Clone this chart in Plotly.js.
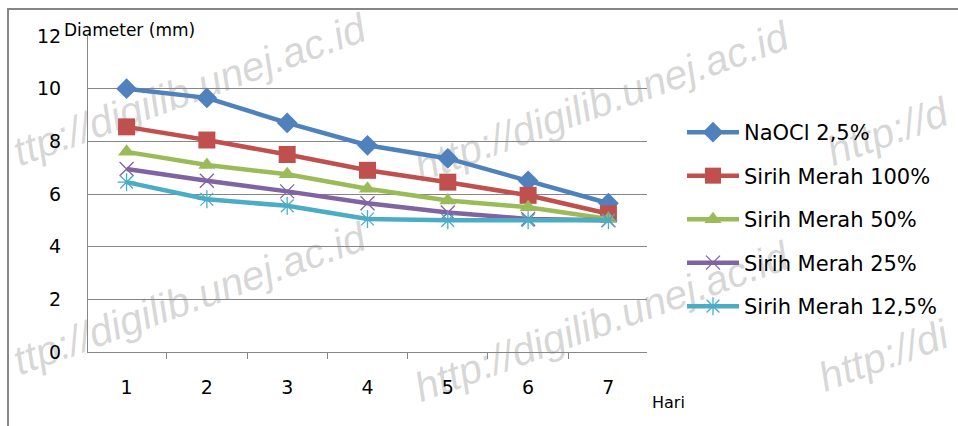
<!DOCTYPE html>
<html>
<head>
<meta charset="utf-8">
<script src="https://cdn.plot.ly/plotly-3.0.1.min.js"></script>
<style>
html,body{margin:0;padding:0;background:#fff;}
#chart{width:958px;height:426px;}
</style>
</head>
<body>
<div id="chart"></div>
<script>
// Data
var days = ['1', '2', '3', '4', '5', '6', '7'];
var naocl25 = [10.0, 9.65, 8.7, 7.85, 7.35, 6.5, 5.65];
var sirih100 = [8.55, 8.05, 7.5, 6.9, 6.45, 5.95, 5.25];
var sirih50 = [7.6, 7.1, 6.75, 6.2, 5.75, 5.5, 5.05];
var sirih25 = [6.95, 6.5, 6.1, 5.65, 5.3, 5.05, 5.0];
var sirih125 = [6.45, 5.8, 5.55, 5.05, 5.0, 5.0, 5.0];
var seriesNames = ['NaOCl 2,5%', 'Sirih Merah 100%', 'Sirih Merah 50%', 'Sirih Merah 25%', 'Sirih Merah 12,5%'];
var yTitle = 'Diameter (mm)';
var xTitle = 'Hari';
var watermarkTexts = ['ttp://digilib.unej.ac.id', 'http://digilib.unej.ac.id', 'ttp://digilib.unej.ac.id',
                      'http://digilib.unej.ac.id', 'http://d', 'http://di'];

var seriesValues = [naocl25, sirih100, sirih50, sirih25, sirih125];
var colors = ['#4F81BD', '#C0504D', '#9BBB59', '#8064A2', '#4BACC6'];
var symbols = ['diamond', 'square', 'triangle-up', 'x-thin-open', 'asterisk-open'];
var msizes = [16, 17, 15, 14, 15];

var traces = seriesValues.map(function (vals, i) {
  var open = i >= 3;
  return {
    x: days,
    y: vals,
    name: seriesNames[i],
    legendgroup: 'g' + i,
    type: 'scatter',
    mode: 'lines+markers',
    line: {color: colors[i], width: 4.5},
    marker: {
      symbol: symbols[i],
      size: msizes[i],
      color: colors[i],
      line: open ? {color: colors[i], width: 1.3} : {width: 0}
    }
  };
});

// pixel -> paper helpers (plot area 88..647 x, 36..352 y)
function px(x) { return (x - 88) / 559; }
function py(y) { return (352 - y) / 316; }

var wmPos = [[188, 86], [600, 98], [188, 295], [600, 318], [886, 128], [882, 352]];
var shapes = [{
  type: 'rect', xref: 'paper', yref: 'paper',
  x0: px(8), x1: px(990), y0: py(9), y1: py(460),
  line: {color: '#868686', width: 2}, fillcolor: 'rgba(0,0,0,0)', layer: 'below'
}];
wmPos.forEach(function (p, i) {
  shapes.push({
    type: 'rect', xref: 'paper', yref: 'paper', layer: 'below',
    x0: px(p[0] - 2), x1: px(p[0] + 2), y0: py(p[1] + 2), y1: py(p[1] - 2),
    line: {width: 0}, fillcolor: 'rgba(0,0,0,0)',
    label: {
      text: watermarkTexts[i], textangle: -20, textposition: 'middle center',
      font: {family: 'Liberation Sans', size: 41, color: 'rgba(150,150,150,0.38)', style: 'italic'}
    }
  });
});

var annotations = [{
  xref: 'paper', yref: 'paper', x: px(62), y: py(30), xanchor: 'left', yanchor: 'middle',
  text: yTitle, showarrow: false, font: {family: 'DejaVu Sans', size: 17, color: '#000'}
}, {
  xref: 'paper', yref: 'paper', x: px(650), y: py(402), xanchor: 'left', yanchor: 'middle',
  text: xTitle, showarrow: false, font: {family: 'DejaVu Sans', size: 16, color: '#000'}
}];

var layout = {
  width: 958,
  height: 426,
  margin: {l: 88, r: 311, t: 36, b: 74},
  paper_bgcolor: '#fff',
  plot_bgcolor: 'rgba(0,0,0,0)',
  font: {family: 'DejaVu Sans', color: '#000'},
  showlegend: true,
  legend: {
    x: px(682), y: py(112), xanchor: 'left', yanchor: 'top',
    font: {family: 'DejaVu Sans', size: 21, color: '#000'},
    itemwidth: 52,
    tracegroupgap: 13.2,
    bgcolor: 'rgba(0,0,0,0)'
  },
  xaxis: {
    type: 'category',
    tickson: 'boundaries',
    ticks: 'outside',
    ticklen: 6,
    tickcolor: '#868686',
    showline: true,
    linecolor: '#868686',
    linewidth: 1,
    showgrid: false,
    zeroline: false,
    tickfont: {family: 'DejaVu Sans', size: 19, color: '#000'},
    ticklabelstandoff: 18
  },
  yaxis: {
    range: [0, 12],
    dtick: 2,
    showline: true,
    linecolor: '#868686',
    linewidth: 1,
    showgrid: true,
    gridcolor: '#868686',
    gridwidth: 1,
    zeroline: false,
    ticks: '',
    tickfont: {family: 'DejaVu Sans', size: 19, color: '#000'},
    ticklabelstandoff: 22
  },
  shapes: shapes,
  annotations: annotations
};

Plotly.newPlot('chart', traces, layout, {displayModeBar: false, staticPlot: true});
</script>
</body>
</html>
